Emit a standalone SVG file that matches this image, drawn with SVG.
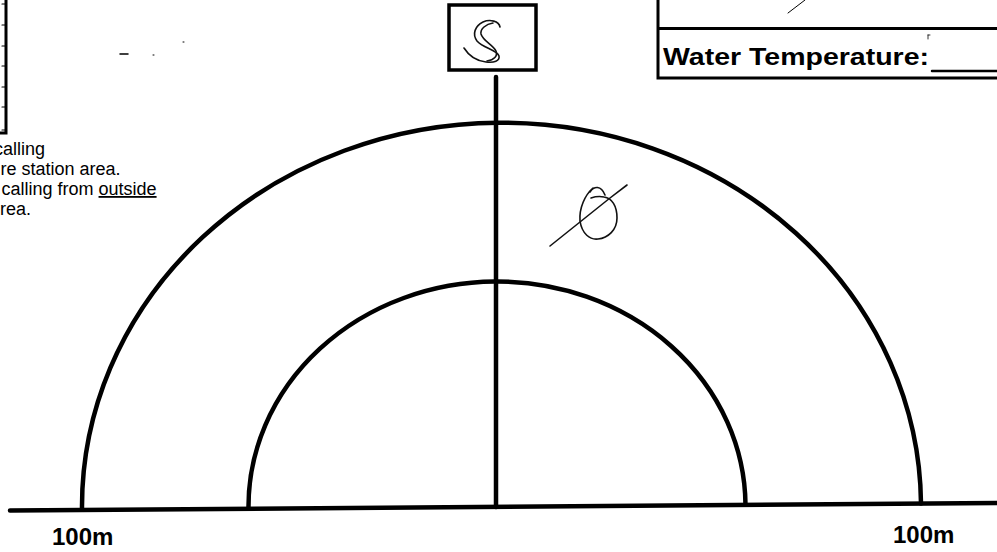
<svg xmlns="http://www.w3.org/2000/svg" width="997" height="552" viewBox="0 0 997 552">
<style>
.ln{fill:none;stroke:#000;stroke-linecap:round}
.thick{stroke-width:4.5}
.med{stroke-width:3}
.thin{stroke-width:1.2}
.pen{fill:none;stroke:#111;stroke-width:1.6;stroke-linecap:round;stroke-linejoin:round}
.note{font-family:"Liberation Sans",Arial,sans-serif;font-size:18px;fill:#000}
.lbl{font-family:"Liberation Sans",Arial,sans-serif;font-size:24px;font-weight:bold;fill:#000}
</style>
<rect width="997" height="552" fill="#fff"/>

<g id="left-box">
  <path class="ln med" d="M6,0 V133 H0"/>
  <path class="ln thin" d="M2,4 H6 M2,25 H6 M2,46 H6 M2,66 H6 M2,87 H6 M2,107 H6 M2,130 H6"/>
</g>

<g id="left-note">
  <text class="note" x="-6" y="155">calling</text>
  <text class="note" x="0.5" y="175">re station area.</text>
  <text class="note" x="1.5" y="195">calling from <tspan text-decoration="underline">outside</tspan></text>
  <text class="note" x="0" y="215">rea.</text>
</g>

<g id="specks">
  <path class="ln" stroke-width="1.5" d="M120,54 H128"/>
  <path class="ln" stroke-width="1" d="M153,55 h1 M183,42 h1"/>
</g>

<g id="water-box">
  <path class="ln med" d="M658,0 V78 H997 M658,28.5 H997"/>
  <path class="ln" stroke-width="1" d="M788,13 L805,0"/>
  <path class="ln" stroke-width="0.8" stroke="#555" d="M928,35 v4 M928,35 h2"/>
  <text class="lbl" x="663" y="65" textLength="266" lengthAdjust="spacingAndGlyphs">Water Temperature:</text>
  <path class="ln" stroke-width="2.5" stroke-linecap="butt" d="M932,71 H997"/>
</g>

<g id="station">
  <rect x="449" y="5" width="87" height="65" fill="#fff" stroke="#000" stroke-width="3.5"/>
  <path class="pen" d="M500,27 C499,21 490,19 483,22 C475,26 472,34 477,41 C483,48 497,50 499,56 C500,61 494,63 486,62 C477,61 469,56 464,48"/>
  <path class="pen" d="M493,23 C486,24 480,29 481,34 C483,41 493,45 496,51 C498,56 494,60 487,61"/>
</g>

<g id="zero-mark">
  <path class="pen" d="M593,188 C585,195 579,208 580,221 C582,234 590,240 598,239 C608,238 617,230 617,218 C617,206 612,198 604,197 C599,196 594,197 591,198"/>
  <path class="pen" d="M590,192 C594,186 601,185 605,195"/>
  <path class="pen" d="M550,246 L580,222 L610,198 L627,185"/>
</g>

<g id="connectors">
  <path id="baseline" class="ln thick" stroke-linecap="butt" d="M10,510.5 L997,503"/>
  <path id="axis" class="ln thick" stroke-linecap="butt" d="M496,77 V507"/>
  <path id="outer-arc" class="ln thick" d="M82,509.5 A419.5,384 0 0 1 921,503.5"/>
  <path id="inner-arc" class="ln thick" d="M248.5,508.3 A248.5,225 0 0 1 745.5,504.8"/>
</g>

<g id="labels">
  <text class="lbl" x="52" y="545">100m</text>
  <text class="lbl" x="893" y="543">100m</text>
</g>
</svg>
